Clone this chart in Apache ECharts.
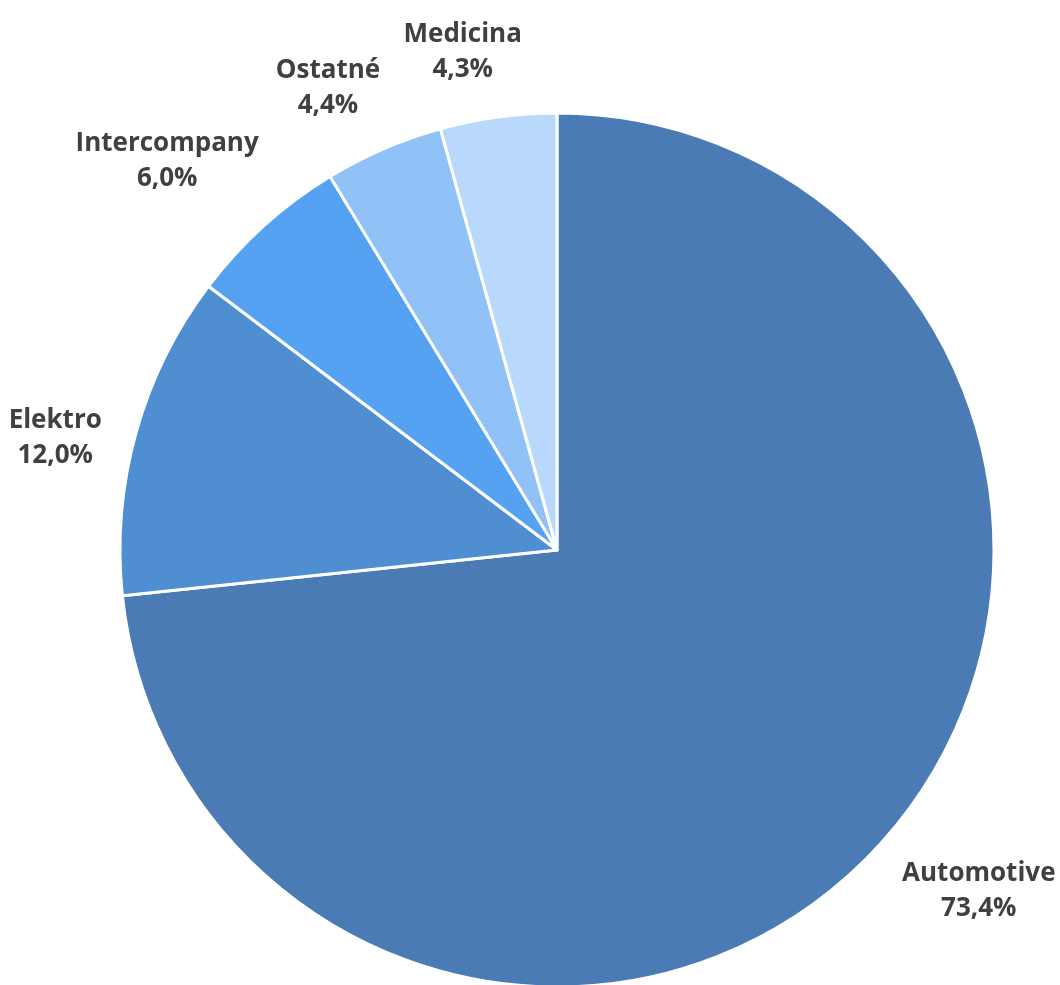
<!DOCTYPE html>
<html>
<head>
<meta charset="utf-8">
<script src="https://cdn.jsdelivr.net/npm/echarts@6/dist/echarts.min.js"></script>
<style>
  html, body { margin: 0; padding: 0; background: #fff; }
  #chart { width: 1060px; height: 985px; }
</style>
</head>
<body>
<div id="chart"></div>
<script>
const categories = ["Automotive", "Elektro", "Intercompany", "Ostatné", "Medicina"];
const shares = [73.4, 12.0, 6.0, 4.4, 4.3];
const colors = ["#4a7bb5", "#4f8fd1", "#55a1f2", "#90c2f7", "#b9d9fc"];

const center = [557, 550];
const radius = 437;
const gap = 24;
const labelShift = -3 * Math.PI / 180; // labels sit a little counterclockwise

const total = shares.reduce((a, b) => a + b, 0);
// mid angle of each slice, clockwise from 12 o'clock
const midAngles = [];
let acc = 0;
shares.forEach(v => {
  midAngles.push(((acc + v / 2) / total) * 2 * Math.PI);
  acc += v;
});

const chart = echarts.init(document.getElementById("chart"));
chart.setOption({
  animation: false,
  series: [{
    type: "pie",
    center: center,
    radius: radius,
    startAngle: 90,
    clockwise: true,
    data: categories.map((name, i) => ({
      name: name,
      value: shares[i],
      itemStyle: { color: colors[i] }
    })),
    itemStyle: { borderColor: "#fff", borderWidth: 3 },
    label: {
      show: true,
      position: "outside",
      overflow: "none",
      formatter: p => p.name + "\n" + p.value.toFixed(1).replace(".", ",") + "%",
      fontFamily: "Open Sans",
      fontWeight: "bold",
      fontSize: 26,
      lineHeight: 35,
      color: "#404040"
    },
    labelLine: { show: false },
    labelLayout: params => {
      const a = midAngles[params.dataIndex] + labelShift;
      const sx = Math.sin(a), cy = -Math.cos(a);
      const hw = params.labelRect.width / 2;
      const hh = params.labelRect.height / 2;
      const d = radius + gap + Math.abs(sx) * hw + Math.abs(cy) * hh;
      return {
        x: center[0] + sx * d,
        y: center[1] + cy * d,
        align: "center",
        verticalAlign: "middle"
      };
    }
  }]
});
</script>
</body>
</html>
